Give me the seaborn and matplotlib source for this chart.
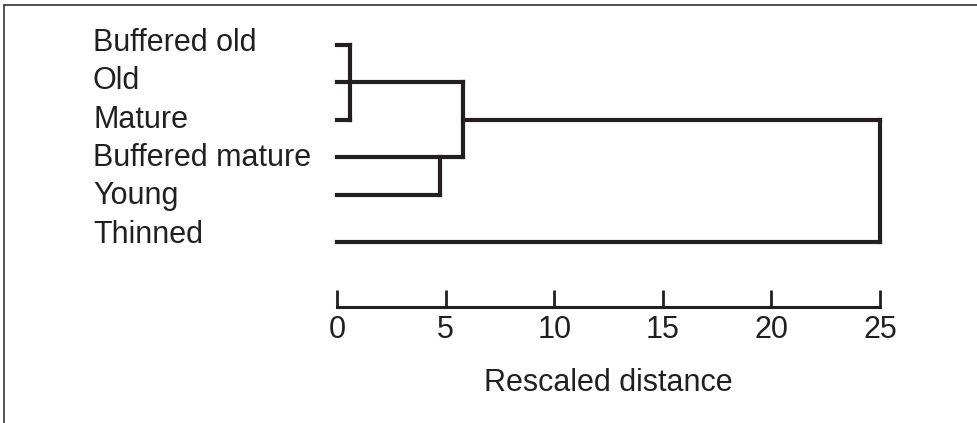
"""
Dendrogram of stand types (rescaled distance), redrawn with seaborn
Output: out.png
"""

import numpy as np
import pandas as pd
import matplotlib.pyplot as plt
import matplotlib.transforms as mtransforms
from matplotlib.lines import Line2D
import seaborn as sns

# leaves, top to bottom
labels = ["Buffered old", "Old", "Mature", "Buffered mature", "Young", "Thinned"]

# merges: children (leaf index or "n<k>" for earlier node) and rescaled distance
merge_children = [[0, 1, 2], [3, 4], ["n0", "n1"], ["n2", 5]]
merge_dist = [0.6, 4.75, 5.8, 25.0]

x_ticks = [0, 5, 10, 15, 20, 25]
x_label = "Rescaled distance"

INK = "#231f20"


def leaf_row(i):
    """vertical position of a leaf line (last leaf sits a bit lower)"""
    return i + (0.25 if i == len(labels) - 1 else 0.0)


def build_segments():
    """Turn the merge list into line segments for lineplot"""
    reps = {}      # node -> (row index, drawn y, height)
    rows = []
    seg = 0
    for i in range(len(labels)):
        reps[i] = (i, leaf_row(i), 0.0)
    for k, (kids, h) in enumerate(zip(merge_children, merge_dist)):
        info = [reps[c] for c in kids]
        # horizontal link from each child up to this merge
        for r, y, ch in info:
            rows += [(seg, ch, y), (seg, h, y)]
            seg += 1
        ys = [y for _, y, _ in info]
        rows += [(seg, h, min(ys)), (seg, h, max(ys))]
        seg += 1
        idx = int(np.floor(np.mean([r for r, _, _ in info])))
        reps["n%d" % k] = (idx, leaf_row(idx), h)
    return pd.DataFrame(rows, columns=["seg", "x", "y"])


def main():
    sns.set_theme(style="white")
    plt.rcParams["font.family"] = ["Liberation Sans", "DejaVu Sans"]

    fig = plt.figure(figsize=(9.77, 4.23), dpi=100)
    ax = fig.add_axes([337 / 977, 1 - 307 / 423, 543 / 977, 262 / 423])

    df = build_segments()
    sns.lineplot(data=df, x="x", y="y", units="seg", estimator=None, sort=False,
                 color=INK, linewidth=3.0, ax=ax, legend=False)
    for ln in ax.lines:
        ln.set_clip_on(False)
        ln.set_solid_capstyle("projecting")
        ln.set_solid_joinstyle("miter")

    ax.set_xlim(0, 25)
    ax.set_ylim(7, 0)
    ax.set_yticks([])
    ax.set_xticks(x_ticks)
    ax.set_xticklabels([str(t) for t in x_ticks], fontsize=22, color=INK)
    ax.tick_params(axis="x", direction="in", length=12, width=2.0,
                   color=INK, pad=6, bottom=True)
    for s in ["top", "left", "right"]:
        ax.spines[s].set_visible(False)
    ax.spines["bottom"].set_color(INK)
    ax.spines["bottom"].set_linewidth(2.2)
    ax.spines["bottom"].set_bounds(0, 25)
    ax.set_xlabel(x_label, fontsize=22, color=INK, labelpad=16)
    ax.set_ylabel("")

    # leaf labels on the left
    trans = mtransforms.blended_transform_factory(fig.transFigure, ax.transData)
    for i, lab in enumerate(labels):
        ax.text(93 / 977, i * 1.024 + 0.16, lab, transform=trans, fontsize=22,
                color=INK, ha="left", va="baseline", clip_on=False)

    # frame lines (top and left)
    fig.add_artist(Line2D([4 / 977, 1], [1 - 5 / 423, 1 - 5 / 423],
                          transform=fig.transFigure, color="#333333", lw=1.2))
    fig.add_artist(Line2D([4 / 977, 4 / 977], [0, 1 - 5 / 423],
                          transform=fig.transFigure, color="#333333", lw=1.2))

    fig.savefig("out.png", dpi=100)
    plt.close(fig)


if __name__ == "__main__":
    main()
